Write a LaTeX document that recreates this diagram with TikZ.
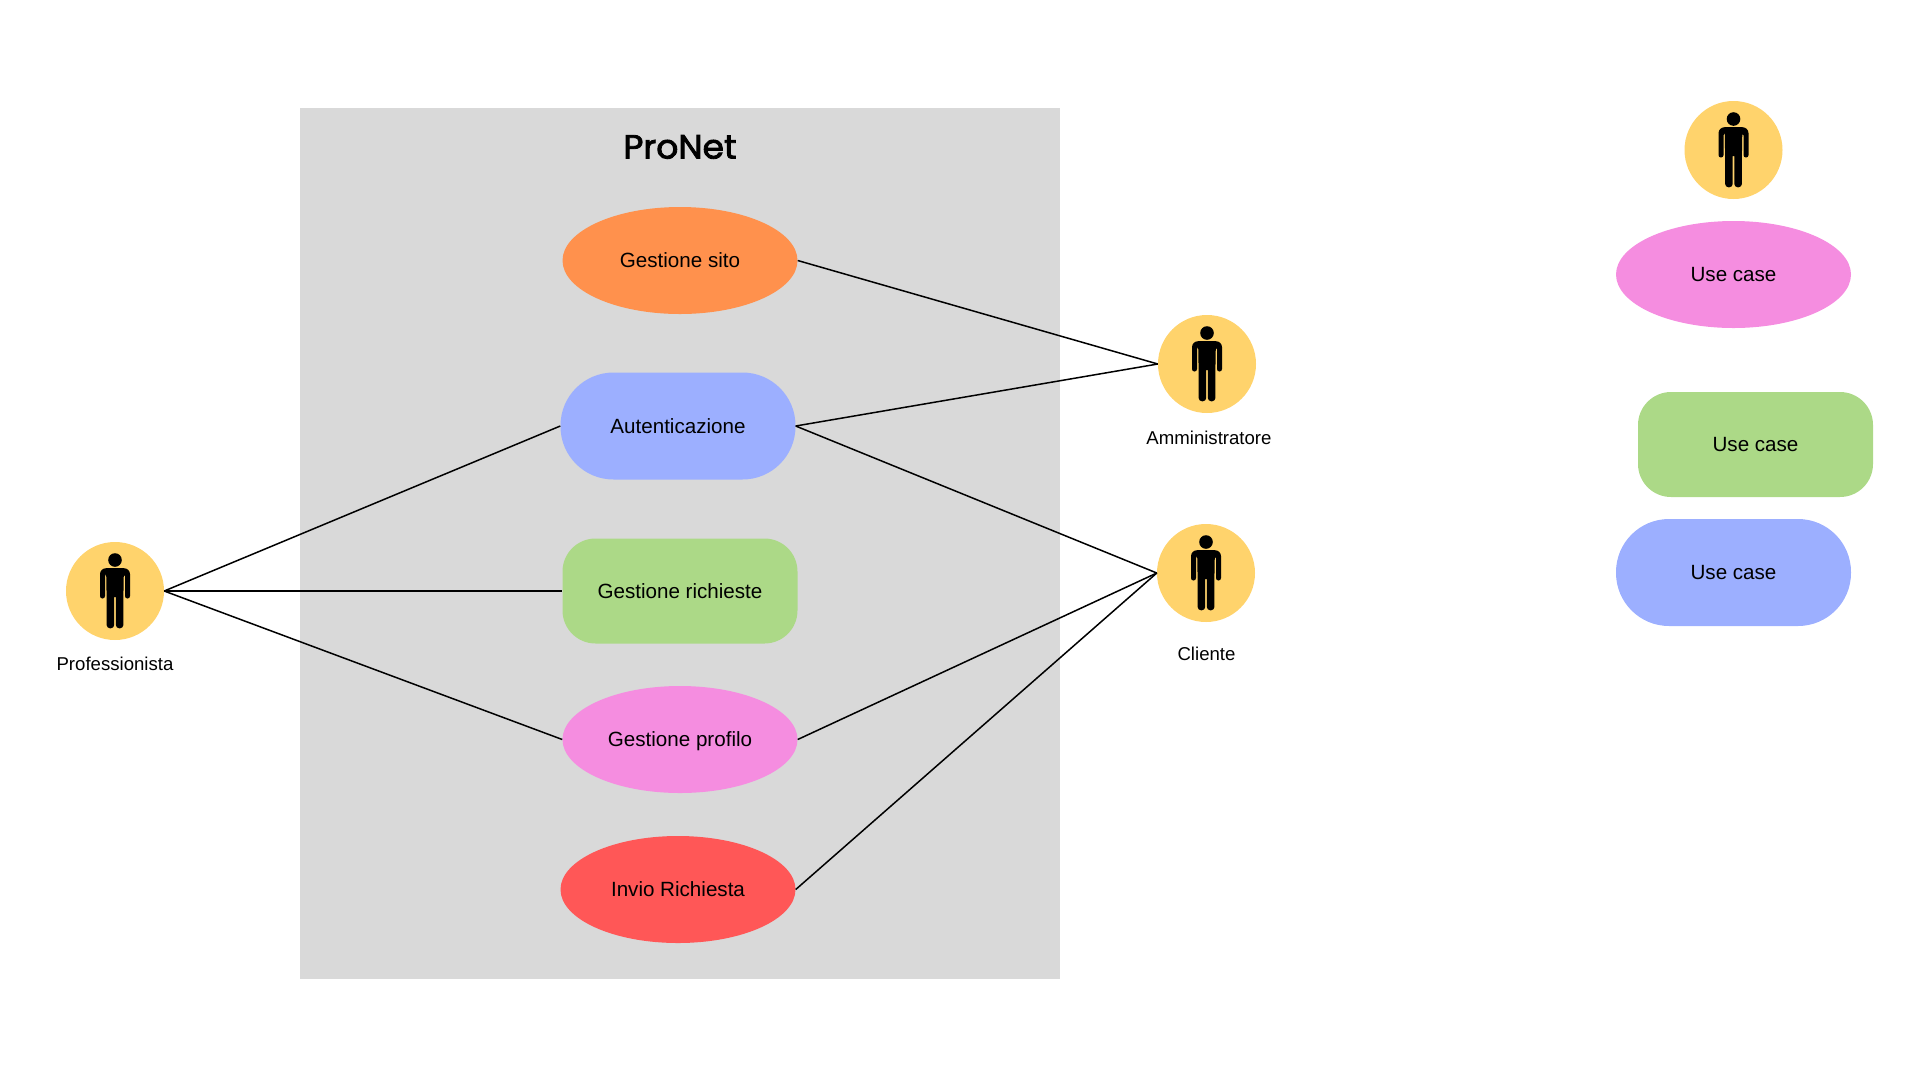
\documentclass[tikz,border=0pt]{standalone}
\usepackage{fontspec}
\setmainfont{Liberation Sans}
\newfontfamily\titlefont[FakeBold=2.5,FakeStretch=1.03]{Poppins}
\usetikzlibrary{shapes.geometric}
\definecolor{actorcol}{HTML}{FFD36C}
\definecolor{sitecol}{HTML}{FF914D}
\definecolor{authcol}{HTML}{9CAFFF}
\definecolor{reqcol}{HTML}{ACD987}
\definecolor{profcol}{HTML}{F58DE0}
\definecolor{sendcol}{HTML}{FF5757}
\definecolor{syscol}{HTML}{D9D9D9}

\begin{document}
\begin{tikzpicture}[
  x=1pt, y=-1pt,
  casetext/.style={inner sep=0pt, align=center, text height=14.6pt, text depth=0pt, font=\fontsize{20.6}{24}\selectfont},
  usecase/.style={casetext, ellipse, minimum width=235pt, minimum height=107pt},
  roundbox/.style={casetext, rectangle, rounded corners=33pt, minimum width=235pt, minimum height=105pt},
  pillbox/.style={casetext, rectangle, rounded corners=53pt, minimum width=235pt, minimum height=107pt},
  actor/.style={circle, fill=actorcol, inner sep=0pt, minimum size=98pt},
  actorname/.style={font=\fontsize{18.6}{22}\selectfont},
  line/.style={line width=1.5pt},
  personicon/.pic={
    \fill (0,-31) circle (6.8);
    \fill[rounded corners=6pt] (-15,-5) -- (-15,-22.8) -- (15,-22.8) -- (15,-5)
      [rounded corners=2.4pt] -- (15,7.5) -- (10,7.5) -- (10,-17) -- (8.8,-17) [rounded corners=0pt] -- (8.4,5)
      [rounded corners=3.4pt] -- (8.4,37.3) -- (0.8,37.3) [rounded corners=0pt] -- (0.8,6) -- (-0.8,6)
      [rounded corners=3.4pt] -- (-0.8,37.3) -- (-8.4,37.3) [rounded corners=0pt] -- (-8.4,5) -- (-8.8,-17)
      [rounded corners=2.4pt] -- (-10,-17) -- (-10,7.5) -- (-15,7.5) -- cycle;
  }
]
\useasboundingbox (0,0) rectangle (1920,1080);

\node[fill=syscol, inner sep=0pt, minimum width=760pt, minimum height=871pt] (system) at (680,543.5) {};
\node[font=\titlefont\fontsize{33.5}{38}\selectfont] (title) at (680,147) {ProNet};

\node[usecase, fill=sitecol] (site) at (680,260.5) {Gestione sito};
\node[pillbox, fill=authcol] (auth) at (678,426) {Autenticazione};
\node[roundbox, fill=reqcol] (req) at (680,591) {Gestione richieste};
\node[usecase, fill=profcol] (prof) at (680,739.5) {Gestione profilo};
\node[usecase, fill=sendcol] (send) at (678,889.5) {Invio Richiesta};

\node[actor] (pro) at (115,591) {};
\pic at (pro) {personicon};
\node[actorname] (proname) at (115,664) {Professionista};

\node[actor] (admin) at (1207,364) {};
\pic at (admin) {personicon};
\node[actorname] (adminname) at (1209,438) {Amministratore};

\node[actor] (client) at (1206,573) {};
\pic at (client) {personicon};
\node[actorname] (clientname) at (1206.5,654) {Cliente};

% legend on the right
\node[actor] (keyactor) at (1733.5,150) {};
\pic at (keyactor) {personicon};
\node[usecase, fill=profcol] (keyprof) at (1733.5,274.5) {Use case};
\node[roundbox, fill=reqcol] (keyreq) at (1755.5,444.5) {Use case};
\node[pillbox, fill=authcol] (keyauth) at (1733.5,572.5) {Use case};

\draw[line] (pro.east) -- (auth.west);
\draw[line] (pro.east) -- (req.west);
\draw[line] (pro.east) -- (prof.west);

\draw[line] (site.east) -- (admin.west);
\draw[line] (auth.east) -- (admin.west);
\draw[line] (auth.east) -- (client.west);
\draw[line] (prof.east) -- (client.west);
\draw[line] (send.east) -- (client.west);
\end{tikzpicture}
\end{document}
